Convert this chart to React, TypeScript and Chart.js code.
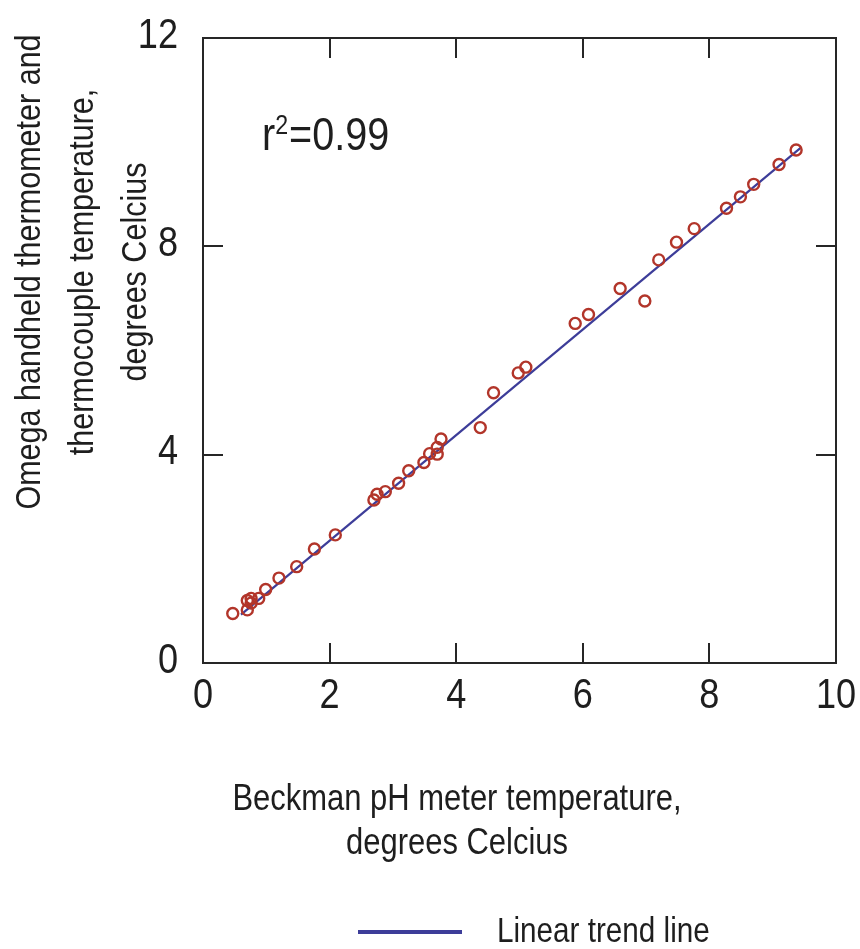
import React, { useEffect, useRef } from 'react';
import { Chart, registerables } from 'chart.js';

Chart.register(...registerables);

// Beckman pH meter temperature (x) vs Omega handheld / thermocouple temperature (y)
const beckmanX = [0.47, 0.70, 0.70, 0.76, 0.76, 0.88, 0.99, 1.20, 1.48, 1.76, 2.09, 2.70, 2.75, 2.88, 3.09, 3.25, 3.49, 3.58, 3.70, 3.70, 3.76, 4.38, 4.59, 4.98, 5.10, 5.88, 6.09, 6.59, 6.98, 7.20, 7.48, 7.76, 8.27, 8.49, 8.70, 9.10, 9.37];
const omegaY = [0.95, 1.02, 1.20, 1.24, 1.15, 1.24, 1.41, 1.63, 1.85, 2.19, 2.46, 3.13, 3.24, 3.29, 3.45, 3.69, 3.85, 4.02, 4.01, 4.14, 4.30, 4.52, 5.19, 5.57, 5.68, 6.52, 6.69, 7.19, 6.95, 7.74, 8.08, 8.34, 8.73, 8.95, 9.19, 9.57, 9.85];

const trendX = [0.6, 9.45];
const trendY = [0.93, 9.9];

const xTicks = [0, 2, 4, 6, 8, 10];
const yTicks = [0, 4, 8, 12];

const yTitleLines = ['Omega handheld thermometer and', 'thermocouple temperature,', 'degrees Celcius'];
const xTitleLines = ['Beckman pH meter temperature,', 'degrees Celcius'];
const legendLabel = 'Linear trend line';
const rSquaredValue = '0.99';

const FONT = '"Liberation Sans", Arial, Helvetica, sans-serif';
const TEXT = '#1e1e1e';
const POINT_COLOR = '#b2352a';
const LINE_COLOR = '#3d3d99';
const NARROW = 0.86;

function drawText(ctx: CanvasRenderingContext2D, text: string, x: number, y: number, size: number, align: CanvasTextAlign, rotate = 0) {
  ctx.save();
  ctx.translate(x, y);
  if (rotate) ctx.rotate(rotate);
  ctx.scale(NARROW, 1);
  ctx.font = `${size}px ${FONT}`;
  ctx.textAlign = align;
  ctx.fillText(text, 0, 0);
  ctx.restore();
}

const decorPlugin = {
  id: 'decor',
  afterDatasetsDraw(chart: any) {
    const { ctx, chartArea: a, scales } = chart;
    ctx.save();
    // frame
    ctx.strokeStyle = '#262626';
    ctx.lineWidth = 2;
    ctx.strokeRect(a.left, a.top, a.right - a.left, a.bottom - a.top);
    // inward ticks
    const TL = 20;
    ctx.beginPath();
    xTicks.slice(1, -1).forEach((v) => {
      const px = Math.round(scales.x.getPixelForValue(v));
      ctx.moveTo(px, a.bottom);
      ctx.lineTo(px, a.bottom - TL);
      ctx.moveTo(px, a.top);
      ctx.lineTo(px, a.top + TL);
    });
    yTicks.slice(1, -1).forEach((v) => {
      const py = Math.round(scales.y.getPixelForValue(v));
      ctx.moveTo(a.left, py);
      ctx.lineTo(a.left + TL, py);
      ctx.moveTo(a.right, py);
      ctx.lineTo(a.right - TL, py);
    });
    ctx.stroke();

    ctx.fillStyle = TEXT;
    ctx.textBaseline = 'middle';
    // tick labels, positioned through the chart's scales
    scales.x.ticks.forEach((t: any) => {
      drawText(ctx, String(t.value), scales.x.getPixelForValue(t.value), a.bottom + 33, 42, 'center');
    });
    scales.y.ticks.forEach((t: any) => {
      drawText(ctx, String(t.value), a.left - 25, scales.y.getPixelForValue(t.value) - 2, 42, 'right');
    });

    // r^2 annotation
    ctx.textBaseline = 'alphabetic';
    let rx = 262;
    const ry = 150;
    drawText(ctx, 'r', rx, ry, 46, 'left');
    ctx.font = `46px ${FONT}`;
    rx += ctx.measureText('r').width * NARROW;
    drawText(ctx, '2', rx, ry - 16, 27, 'left');
    ctx.font = `27px ${FONT}`;
    rx += ctx.measureText('2').width * NARROW + 1;
    drawText(ctx, '=' + rSquaredValue, rx, ry, 46, 'left');

    // y axis title
    ctx.textBaseline = 'middle';
    yTitleLines.forEach((line, i) => {
      drawText(ctx, line, 30 + i * 53, 272, 35.5, 'center', -Math.PI / 2);
    });

    // x axis title
    xTitleLines.forEach((line, i) => {
      drawText(ctx, line, 457, 800 + i * 44, 36, 'center');
    });

    // legend
    ctx.strokeStyle = LINE_COLOR;
    ctx.lineWidth = 4;
    ctx.beginPath();
    ctx.moveTo(358, 932);
    ctx.lineTo(462, 932);
    ctx.stroke();
    drawText(ctx, legendLabel, 497, 932, 34.5, 'left');

    ctx.restore();
  },
};

export default function App() {
  const canvasRef = useRef<HTMLCanvasElement | null>(null);

  useEffect(() => {
    const canvas = canvasRef.current;
    if (!canvas) return;
    const points = beckmanX.map((x, i) => ({ x, y: omegaY[i] }));
    const trend = trendX.map((x, i) => ({ x, y: trendY[i] }));

    const chart = new Chart(canvas, {
      type: 'scatter',
      data: {
        datasets: [
          {
            label: 'Measurements',
            data: points,
            pointStyle: 'circle',
            pointRadius: 5.5,
            pointBorderWidth: 2.4,
            pointBorderColor: POINT_COLOR,
            pointBackgroundColor: 'rgba(0,0,0,0)',
            showLine: false,
          },
          {
            label: legendLabel,
            data: trend,
            showLine: true,
            borderColor: LINE_COLOR,
            borderWidth: 2.2,
            pointRadius: 0,
          },
        ],
      },
      options: {
        responsive: false,
        animation: false,
        layout: { padding: { top: 38, right: 24, left: 0, bottom: 0 } },
        plugins: {
          legend: { display: false },
          tooltip: { enabled: false },
        },
        scales: {
          x: {
            type: 'linear',
            min: 0,
            max: 10,
            afterFit: (s: any) => {
              s.height = 286;
            },
            ticks: { stepSize: 2, display: false },
            grid: { display: false, drawTicks: false },
            border: { display: false },
          },
          y: {
            type: 'linear',
            min: 0,
            max: 12,
            afterFit: (s: any) => {
              s.width = 203;
            },
            ticks: { stepSize: 4, display: false },
            grid: { display: false, drawTicks: false },
            border: { display: false },
          },
        },
      },
      plugins: [decorPlugin],
    });
    return () => chart.destroy();
  }, []);

  return (
    <canvas
      ref={canvasRef}
      width={860}
      height={949}
      style={{ position: 'fixed', left: 0, top: 0, display: 'block', background: '#ffffff' }}
    />
  );
}
